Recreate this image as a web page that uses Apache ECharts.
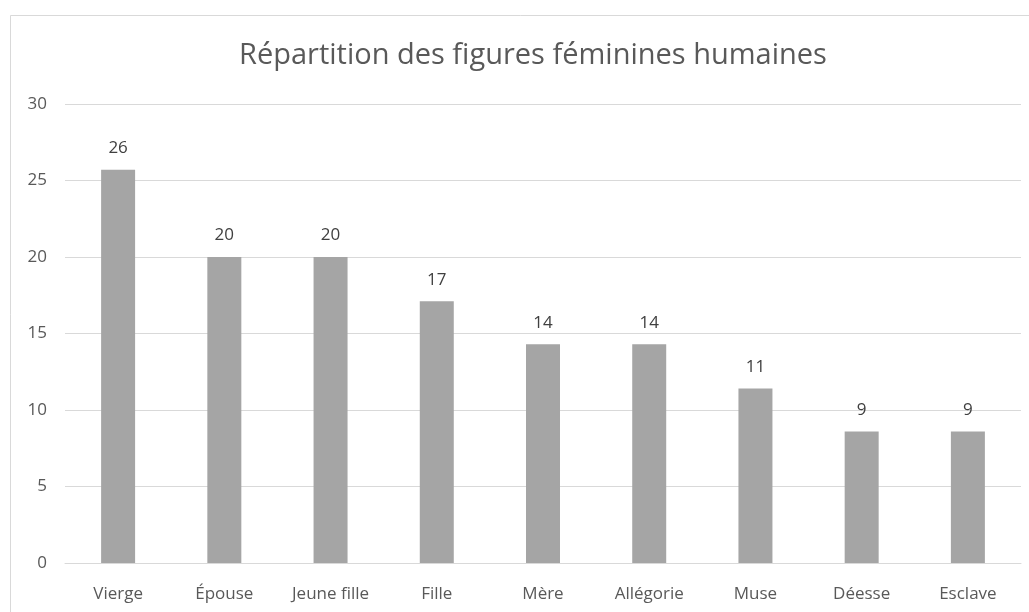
<!DOCTYPE html>
<html>
<head>
<meta charset="utf-8">
<script src="https://cdn.jsdelivr.net/npm/echarts@6/dist/echarts.min.js"></script>
<style>
html,body{margin:0;padding:0;background:#fff;}
#chart{width:1029px;height:612px;}
</style>
</head>
<body>
<div id="chart"></div>
<script>
const titleText = "Répartition des figures féminines humaines";
const categories = ["Vierge","Épouse","Jeune fille","Fille","Mère","Allégorie","Muse","Déesse","Esclave"];
const values = [25.7, 20.0, 20.0, 17.1, 14.3, 14.3, 11.4, 8.6, 8.6];
const yTicks = {min: 0, max: 30, interval: 5};

const font = "'Open Sans', 'Noto Sans', sans-serif";
const chart = echarts.init(document.getElementById('chart'), null, {renderer: 'canvas'});
chart.setOption({
  animation: false,
  backgroundColor: '#ffffff',
  graphic: [{
    type: 'rect',
    shape: {x: 10.5, y: 15.5, width: 1040, height: 640},
    style: {fill: 'none', stroke: '#d9d9d9', lineWidth: 1},
    silent: true, z: -1
  }],
  title: {
    text: titleText,
    left: 234,
    top: 36,
    textStyle: {fontFamily: font, fontSize: 29, fontWeight: 'normal', color: '#595959'}
  },
  grid: {left: 65, right: 8, top: 104, bottom: 49, containLabel: false},
  xAxis: {
    type: 'category',
    data: categories,
    axisLine: {show: true, lineStyle: {color: '#d9d9d9', width: 1}},
    axisTick: {show: false},
    axisLabel: {fontFamily: font, fontSize: 17, color: '#595959', margin: 23}
  },
  yAxis: {
    type: 'value',
    min: yTicks.min, max: yTicks.max, interval: yTicks.interval,
    axisLine: {show: false},
    axisTick: {show: false},
    splitLine: {lineStyle: {color: '#d9d9d9', width: 1}},
    axisLabel: {fontFamily: font, fontSize: 17, color: '#595959', margin: 18}
  },
  series: [{
    type: 'bar',
    data: values,
    barWidth: '32%',
    itemStyle: {color: '#a5a5a5'},
    label: {
      show: true,
      position: 'top',
      distance: 13,
      fontFamily: font,
      fontSize: 17,
      color: '#404040',
      formatter: p => Math.round(p.value)
    }
  }]
});
</script>
</body>
</html>
